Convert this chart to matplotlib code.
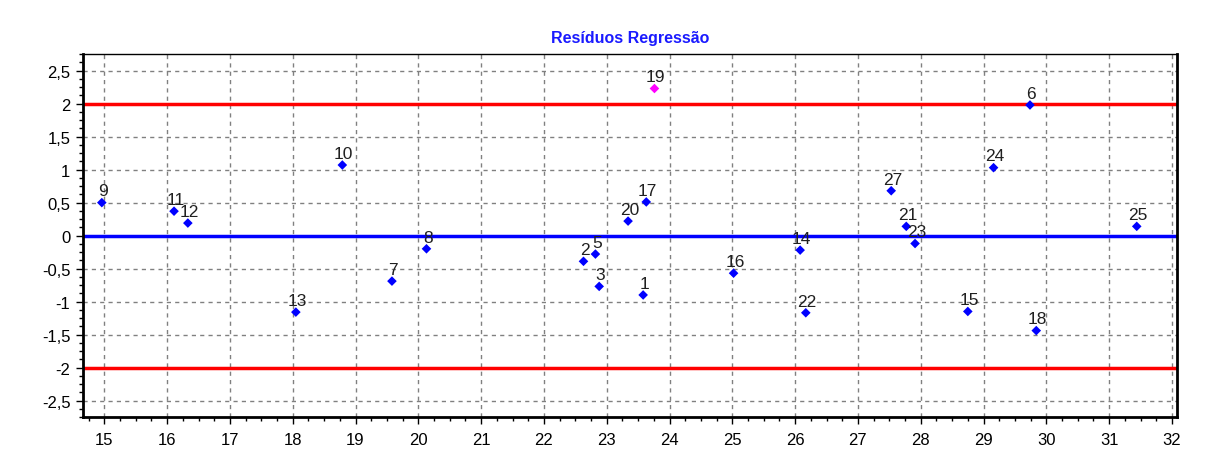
import numpy as np
import matplotlib
matplotlib.use('Agg')
import matplotlib.pyplot as plt
from matplotlib.ticker import MultipleLocator, FuncFormatter

# observacoes (numero, x, residuo)
obs_ids = [9, 11, 12, 10, 13, 7, 8, 2, 5, 3, 20, 17, 1, 19,
           16, 14, 22, 27, 21, 23, 24, 15, 18, 6, 25]
x_vals = [14.96, 16.11, 16.33, 18.79, 18.05, 19.58, 20.13, 22.63, 22.82, 22.88,
          23.34, 23.63, 23.58, 23.76, 25.02, 26.08, 26.17, 27.53, 27.77, 27.91,
          29.16, 28.75, 29.84, 29.74, 31.44]
residuos = [0.50, 0.37, 0.19, 1.07, -1.16, -0.69, -0.20, -0.39, -0.28, -0.77,
            0.22, 0.51, -0.90, 2.23, -0.57, -0.22, -1.17, 0.68, 0.14, -0.12,
            1.03, -1.15, -1.44, 1.98, 0.14]
destaque = [19]  # ponto fora dos limites
limites = [-2, 2]

plt.rcParams['font.family'] = ['Liberation Sans', 'DejaVu Sans']

fig = plt.figure(figsize=(12.06, 4.6), dpi=100)
ax = fig.add_axes([0.0688, 0.0913, 0.9071, 0.7887])

ax.set_xlim(14.66, 32.08)
ax.set_ylim(-2.75, 2.75)

ax.grid(True, which='major', color='#808080', linestyle=(0, (3, 3)), linewidth=1)
ax.set_axisbelow(True)

for lim in limites:
    ax.axhline(lim, color='#ff0000', linewidth=2.5, zorder=2)
ax.axhline(0, color='#0000ff', linewidth=2.5, zorder=2)

cores = ['#ff00ff' if i in destaque else '#0000ff' for i in obs_ids]
ax.scatter(x_vals, residuos, marker='D', s=24, c=cores, edgecolors='none', zorder=3)

for i, x, y in zip(obs_ids, x_vals, residuos):
    ax.annotate(str(i), (x, y), xytext=(1, 3), textcoords='offset points',
                ha='center', va='bottom', fontsize=12.5, color='#202020', zorder=4)

ax.xaxis.set_major_locator(MultipleLocator(1))
ax.xaxis.set_minor_locator(MultipleLocator(0.25))
ax.yaxis.set_major_locator(MultipleLocator(0.5))
ax.yaxis.set_minor_locator(MultipleLocator(0.125))
fmt = FuncFormatter(lambda v, p: ('%g' % v).replace('.', ','))
ax.yaxis.set_major_formatter(fmt)
ax.xaxis.set_major_formatter(FuncFormatter(lambda v, p: '%d' % v))

ax.tick_params(which='major', direction='out', length=5, width=1, labelsize=12, colors='black')
ax.tick_params(which='minor', direction='out', length=3, width=1, colors='black')
ax.tick_params(axis='x', pad=6)
ax.tick_params(axis='y', pad=4)

for s in ['left', 'bottom', 'right']:
    ax.spines[s].set_linewidth(2)
ax.spines['top'].set_linewidth(1)

ax.set_title('Resíduos Regressão', color='#1a1aff', fontsize=11.5, fontweight='bold', pad=9)

fig.savefig('out.png', dpi=100)
